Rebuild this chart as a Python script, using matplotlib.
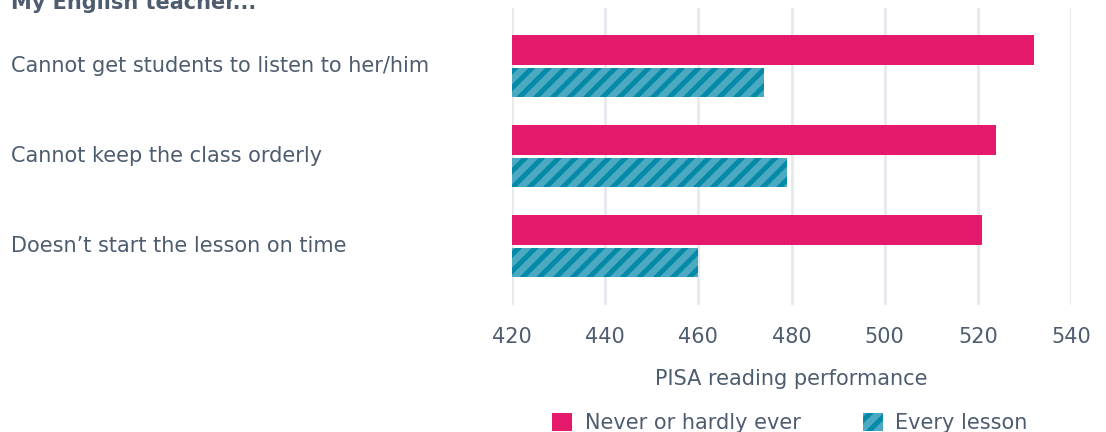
import matplotlib.pyplot as plt
import matplotlib.patches as mpatches
import numpy as np

# data
categories = ["Cannot get students to listen to her/him",
              "Cannot keep the class orderly",
              "Doesn\u2019t start the lesson on time"]
never_vals = [532, 524, 521]
every_vals = [474, 479, 460]
series_names = ["Never or hardly ever", "Every lesson"]
xticks = [420, 440, 460, 480, 500, 520, 540]

pink = "#e5196c"
teal_light = "#4ba9c2"
teal_dark = "#0489a8"
txt = "#4e5c70"
grid = "#e7eaef"
fs = 15

plt.rcParams['font.family'] = ['DejaVu Sans']
plt.rcParams['hatch.linewidth'] = 3.5

fig = plt.figure(figsize=(11.06, 4.32), dpi=100)
ax = fig.add_axes([512 / 1106, 1 - 305 / 432, (1071 - 512) / 1106, (305 - 8) / 432])

y = np.arange(len(categories))
h = 0.33
base = 420
ax.barh(y - 0.178, np.array(never_vals) - base, left=base, height=h,
        color=pink, linewidth=0, zorder=3)
ax.barh(y + 0.183, np.array(every_vals) - base, left=base, height=h,
        facecolor=teal_light, edgecolor=teal_dark, hatch='//', linewidth=0, zorder=3)

ax.set_xlim(420, 540)
ax.set_ylim(2.656, -0.644)
ax.set_xticks(xticks)
ax.set_yticks([])
for xv in xticks:
    ax.axvline(xv, color=grid, lw=2.2, zorder=1)
for s in ax.spines.values():
    s.set_visible(False)
ax.tick_params(axis='x', length=0, pad=16, labelsize=fs, labelcolor=txt)
ax.set_xlabel("PISA reading performance", fontsize=fs, color=txt, labelpad=16)

for i, c in enumerate(categories):
    fig.text(11 / 1106, 1 - (66 + 90 * i) / 432, c, fontsize=fs, color=txt,
             ha='left', va='center')

fig.text(11 / 1106, 1 - 3 / 432, "My English teacher...", fontsize=fs,
         fontweight='bold', color=txt, ha='left', va='center')

handles = [mpatches.Patch(facecolor=pink, linewidth=0),
           mpatches.Patch(facecolor=teal_light, edgecolor=teal_dark, hatch='//', linewidth=0)]
fig.legend(handles, series_names, loc='center', bbox_to_anchor=(790 / 1106, 1 - 423 / 432),
           ncol=2, frameon=False, fontsize=fs, labelcolor=txt, handlelength=0.95,
           handleheight=0.95, columnspacing=3.0, handletextpad=0.6)

fig.savefig("out.png", dpi=100)
